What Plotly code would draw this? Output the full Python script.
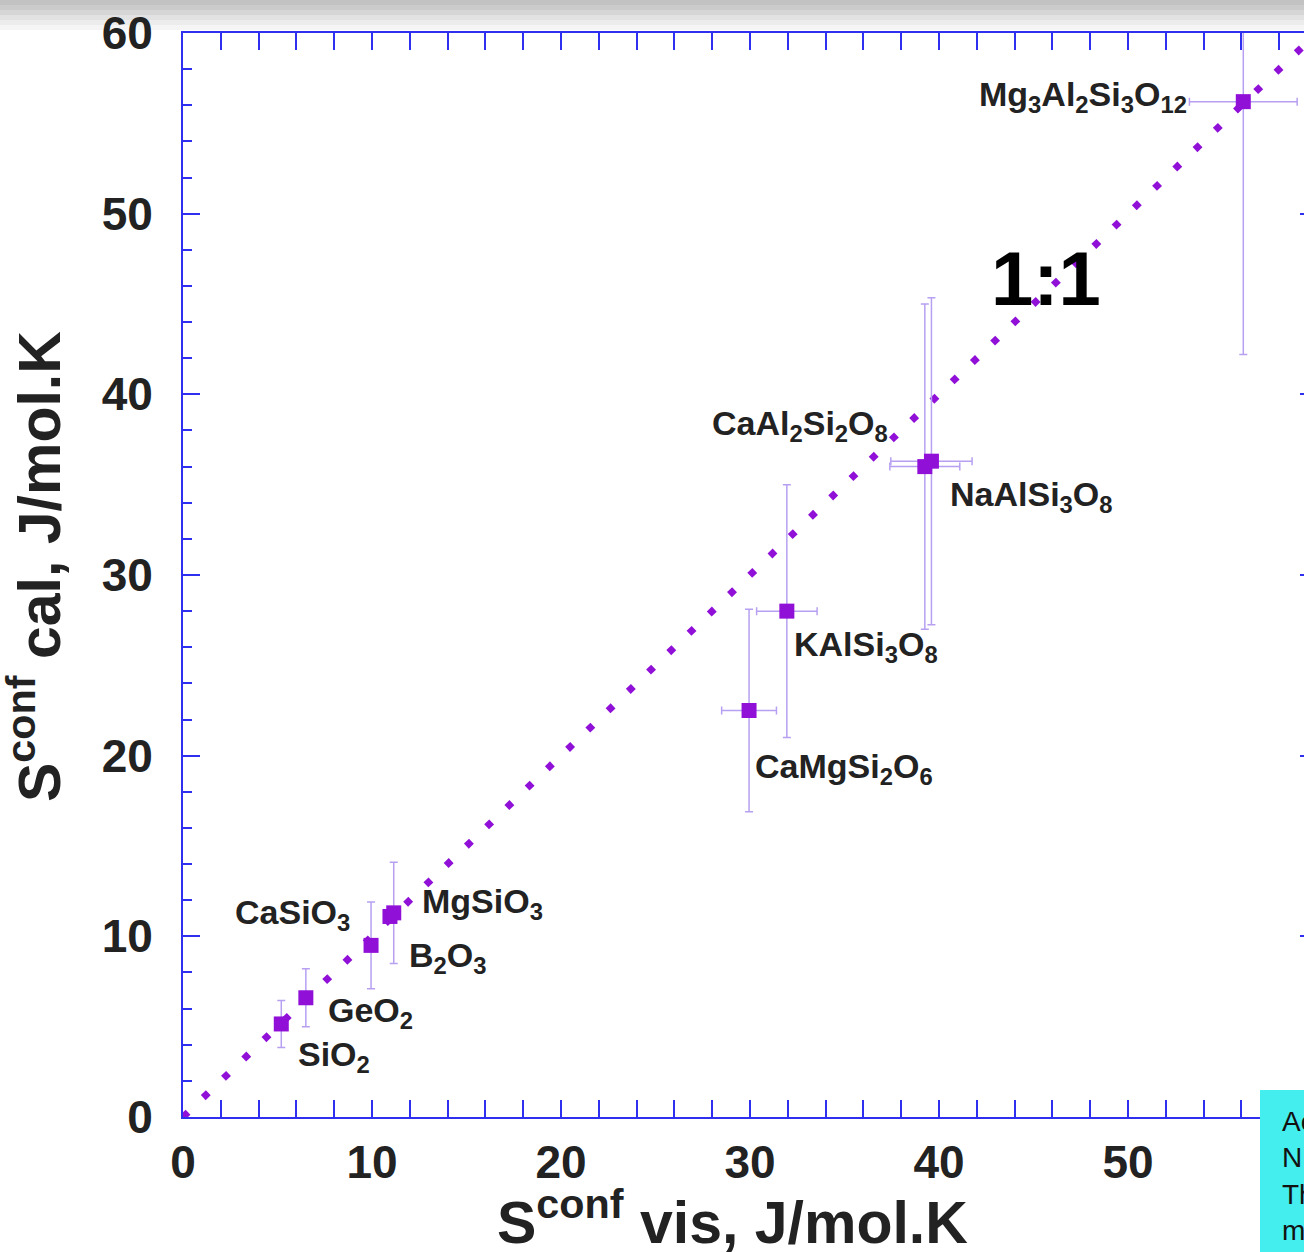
import plotly.graph_objects as go

# Configurational entropy: viscosity-derived vs calorimetric (J/mol.K)
compounds = [
    "SiO<sub>2</sub>",
    "GeO<sub>2</sub>",
    "CaSiO<sub>3</sub>",
    "B<sub>2</sub>O<sub>3</sub>",
    "MgSiO<sub>3</sub>",
    "CaMgSi<sub>2</sub>O<sub>6</sub>",
    "KAlSi<sub>3</sub>O<sub>8</sub>",
    "NaAlSi<sub>3</sub>O<sub>8</sub>",
    "CaAl<sub>2</sub>Si<sub>2</sub>O<sub>8</sub>",
    "Mg<sub>3</sub>Al<sub>2</sub>Si<sub>3</sub>O<sub>12</sub>",
]
s_vis = [5.2, 6.5, 9.95, 10.95, 11.15, 29.95, 31.95, 39.25, 39.6, 56.1]
s_cal = [5.15, 6.6, 9.5, 11.1, 11.3, 22.5, 28.0, 36.0, 36.3, 56.2]
s_vis_err = [None, None, None, None, None, 1.45, 1.6, 1.85, 2.15, 2.85]
s_cal_err = [1.3, 1.6, 2.4, None, 2.8, 5.6, 7.0, 9.0, 9.05, 14.0]

one_to_one = [0, 60]

x_ticks = [0, 10, 20, 30, 40, 50]
y_ticks = [0, 10, 20, 30, 40, 50, 60]

# label placement around each point: (xanchor, xshift px, yshift px)
label_place = [
    ("left", 15, -33),
    ("left", 20, -15),
    ("right", -19, 31),
    ("left", 17, -41),
    ("left", 26, 9),
    ("left", 4, -58),
    ("left", 5, -35),
    ("left", 23, -30),
    ("right", -41, 36),
    ("right", -54, 5),
]

PURPLE = "#9010d8"
ERR = "#b7a0f2"
AXIS = "#2f2ff0"
TXT = "#222222"
FONT = "Liberation Sans, Arial, sans-serif"

L, T, B, W, H = 183, 33, 135, 1304, 1252
PH = H - T - B
PW = W - L


def py(p):
    return (H - B - p) / PH


def px(p):
    return (p - L) / PW


fig = go.Figure()

fig.add_trace(go.Scatter(
    x=one_to_one, y=one_to_one, mode="lines",
    line=dict(color=PURPLE, width=7, dash="7px,21px"),
    hoverinfo="skip", showlegend=False,
))

fig.add_trace(go.Scatter(
    x=s_vis, y=s_cal, mode="markers",
    marker=dict(symbol="square", size=15, color=PURPLE),
    error_x=dict(type="data", array=s_vis_err, color=ERR, thickness=1.5, width=4),
    error_y=dict(type="data", array=s_cal_err, color=ERR, thickness=1.5, width=4),
    showlegend=False,
))

# carrier for the right-hand tick marks
fig.add_trace(go.Scatter(x=[None], y=[None], yaxis="y2", showlegend=False))

annotations = []
for name, xv, yv, (anc, dx, dy) in zip(compounds, s_vis, s_cal, label_place):
    annotations.append(dict(
        x=xv, y=yv, xref="x", yref="y", text=name, showarrow=False,
        xanchor=anc, yanchor="middle", xshift=dx, yshift=dy,
        font=dict(family=FONT, size=34, color=TXT, weight="bold"),
    ))

annotations.append(dict(
    x=px(1046), y=py(278), xref="paper", yref="paper", text="1:1",
    showarrow=False, xanchor="center", yanchor="middle",
    font=dict(family=FONT, size=76, color="#000000", weight="bold"),
))

annotations.append(dict(
    x=px(732), y=py(1218), xref="paper", yref="paper",
    text="S<sup>conf</sup> vis, J/mol.K", showarrow=False,
    xanchor="center", yanchor="middle",
    font=dict(family=FONT, size=59, color=TXT, weight="bold"),
))
annotations.append(dict(
    x=px(35), y=py(567), xref="paper", yref="paper",
    text="S<sup>conf</sup> cal, J/mol.K", showarrow=False, textangle=-90,
    xanchor="center", yanchor="middle",
    font=dict(family=FONT, size=59, color=TXT, weight="bold"),
))

annotations.append(dict(
    x=px(1280), y=py(1104), xref="paper", yref="paper",
    text="Ac<br>N<br>Th<br>m", showarrow=False, align="left",
    xanchor="left", yanchor="top",
    font=dict(family=FONT, size=28, color="#111111"),
))

shapes = []
# soft grey band along the top edge
band = ["#c2c2c2", "#cbcbcb", "#d6d6d6", "#e2e2e2", "#ececec", "#f5f5f5"]
for i, c in enumerate(band):
    shapes.append(dict(
        type="rect", xref="paper", yref="paper", layer="below",
        x0=px(0), x1=1, y0=py(5 * i + 5), y1=py(5 * i),
        fillcolor=c, line=dict(width=0),
    ))
# cyan note box in the lower right corner
shapes.append(dict(
    type="rect", xref="paper", yref="paper", layer="above",
    x0=px(1260), x1=1, y0=py(H), y1=py(1090),
    fillcolor="#45eeee", line=dict(width=0),
))

axis_common = dict(
    showgrid=False, zeroline=False, showline=True, linecolor=AXIS, linewidth=2,
    ticks="inside", ticklen=17, tickwidth=2, tickcolor=AXIS,
    tickfont=dict(family=FONT, size=46, color=TXT, weight="bold"),
    minor=dict(ticks="inside", ticklen=9, tickwidth=1.5, tickcolor=AXIS, dtick=2),
)

fig.update_layout(
    width=W, height=H,
    margin=dict(l=L, r=0, t=T, b=B),
    paper_bgcolor="#ffffff", plot_bgcolor="rgba(0,0,0,0)",
    xaxis=dict(
        range=[0, PW / 18.9], tickvals=x_ticks, mirror="allticks",
        ticklabelstandoff=4, **axis_common,
    ),
    yaxis=dict(
        range=[0, 60], tickvals=y_ticks, mirror=False,
        ticklabelstandoff=19, **axis_common,
    ),
    yaxis2=dict(
        overlaying="y", side="right", range=[0, 60], tickvals=y_ticks,
        showgrid=False, zeroline=False, showline=False, showticklabels=False,
        ticks="inside", ticklen=4, tickwidth=2, tickcolor=AXIS,
    ),
    annotations=annotations,
    shapes=shapes,
)

fig.write_html("out.html")
